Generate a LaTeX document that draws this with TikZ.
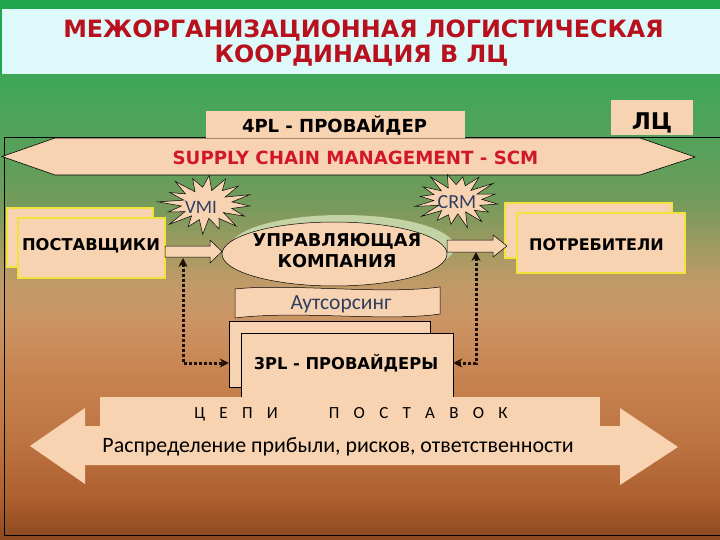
\documentclass[tikz,border=0pt]{standalone}
\usepackage{fontspec}
\setmainfont{DejaVu Sans}
\newfontfamily\calfont{Carlito}
\usetikzlibrary{arrows.meta,shapes.geometric}
\definecolor{peach}{HTML}{F8D3B2}
\definecolor{titred}{HTML}{B8101C}
\definecolor{scmred}{HTML}{D0182A}
\definecolor{topgreen}{HTML}{20A64C}
\definecolor{panel}{HTML}{DDF9FA}
\definecolor{yel}{HTML}{F2E23C}
\definecolor{slate}{HTML}{2E3F62}
\definecolor{shadowg}{HTML}{C4D3A6}
\definecolor{dotc}{HTML}{1E0E08}
\definecolor{g1}{HTML}{3DA858}
\definecolor{g2}{HTML}{5CA05A}
\definecolor{g3}{HTML}{7A9A5C}
\definecolor{g4}{HTML}{A49A62}
\definecolor{g5}{HTML}{C29A68}
\definecolor{g6}{HTML}{CC9464}
\definecolor{g7}{HTML}{C6824E}
\definecolor{g8}{HTML}{BD7442}
\definecolor{g9}{HTML}{AD5E2E}
\definecolor{g10}{HTML}{8C4820}
\tikzset{
  pbox/.style={fill=peach, inner sep=0pt},
  ybox/.style={fill=peach, draw=yel, line width=1.6pt, inner sep=0pt},
  kbox/.style={fill=peach, draw=black, line width=0.5pt, inner sep=0pt},
  blbl/.style={anchor=base, inner sep=0pt, font=\bfseries\fontsize{#1}{#1}\selectfont},
  clbl/.style={anchor=base, inner sep=0pt, font=\calfont\fontsize{#1}{#1}\selectfont},
  barrow/.style={fill=peach, draw=black, line width=0.5pt, line join=miter},
  starsty/.style={fill=peach, draw=black, line width=0.5pt},
  dotarrow/.style={draw=dotc, line width=3pt, dash pattern=on 3pt off 2pt,
    {Stealth[length=9pt,width=9pt]}-{Stealth[length=9pt,width=9pt]}}
}
\begin{document}
\begin{tikzpicture}[x=1pt,y=-1pt]
\useasboundingbox (0,0) rectangle (720,540);
% background
\fill[topgreen] (0,0) rectangle (720,76);
\shade[top color=g1,bottom color=g2] (0,75) rectangle (720,161);
\shade[top color=g2,bottom color=g3] (0,160) rectangle (720,211);
\shade[top color=g3,bottom color=g4] (0,210) rectangle (720,251);
\shade[top color=g4,bottom color=g5] (0,250) rectangle (720,286);
\shade[top color=g5,bottom color=g6] (0,285) rectangle (720,321);
\shade[top color=g6,bottom color=g7] (0,320) rectangle (720,381);
\shade[top color=g7,bottom color=g8] (0,380) rectangle (720,441);
\shade[top color=g8,bottom color=g9] (0,440) rectangle (720,501);
\shade[top color=g9,bottom color=g10] (0,500) rectangle (720,540);
\fill[panel] (2,9) rectangle (720,74);
\node[blbl=23.8, text=titred] (t1) at (363.5,38) {МЕЖОРГАНИЗАЦИОННАЯ ЛОГИСТИЧЕСКАЯ};
\node[blbl=23.8, text=titred] (t2) at (361.5,63) {КООРДИНАЦИЯ В ЛЦ};
% frame
\draw[black, line width=0.8pt] (722,137) -- (4,137) -- (4,535) -- (722,535);
% SCM arrow
\draw[barrow, line width=0.6pt] (2,156.5) -- (55,138) -- (640,138) -- (695,157) -- (640,175) -- (55,175) -- cycle;
\node[blbl=18.2, text=scmred] (scm) at (355.5,165) {SUPPLY CHAIN MANAGEMENT - SCM};
% 4PL and LC
\node[pbox, minimum width=259pt, minimum height=27pt] (pl4box) at (335.5,125) {};
\node[blbl=18] (pl4) at (334.5,133) {4PL - ПРОВАЙДЕР};
\node[pbox, minimum width=82pt, minimum height=35pt] (lcbox) at (652,117.5) {};
\node[blbl=23] (lc) at (652,130) {ЛЦ};
% stars
\draw[starsty] plot[samples at={0,...,31}, variable=\t]
  ({206+cos(\t*360/32+4)*44*(1-0.45*mod(\t,2))*(1+0.1*sin(\t*97))},
   {204+sin(\t*360/32+4)*28*(1-0.45*mod(\t,2))*(1+0.1*sin(\t*97))}) -- cycle;
\node[clbl=19, text=slate] (vmi) at (201,214) {VMI};
\draw[starsty] plot[samples at={0,...,31}, variable=\t]
  ({457+cos(\t*360/32+9)*41*(1-0.45*mod(\t,2))*(1+0.1*sin(\t*131))},
   {200+sin(\t*360/32+9)*26*(1-0.45*mod(\t,2))*(1+0.1*sin(\t*131))}) -- cycle;
\node[clbl=20, text=slate] (crm) at (457,208) {CRM};
% suppliers / consumers
\node[ybox, minimum width=146pt, minimum height=59pt] (postb) at (80,237.5) {};
\node[ybox, minimum width=147pt, minimum height=60pt] (postf) at (91.5,248) {};
\node[blbl=16.3] (post) at (91,251) {ПОСТАВЩИКИ};
\node[ybox, minimum width=167pt, minimum height=55pt] (potb) at (588.5,230.5) {};
\node[ybox, minimum width=168pt, minimum height=60pt] (potf) at (601,243) {};
\node[blbl=16] (pot) at (596.5,250) {ПОТРЕБИТЕЛИ};
% outsourcing
\draw[kbox] (235,289) .. controls (290,283) and (380,295) .. (440,287) -- (440,314)
  .. controls (385,322) and (300,310) .. (235,318) -- cycle;
\node[clbl=21.5, text=slate] (auts) at (341,309) {Аутсорсинг};
% managing company
\fill[shadowg] (342.5,247) ellipse [x radius=112pt, y radius=32pt];
\node[ellipse, kbox, minimum width=225pt, minimum height=64pt] (uk) at (334.5,254) {};
\node[blbl=17.7] (uk1) at (337,247) {УПРАВЛЯЮЩАЯ};
\node[blbl=17.7] (uk2) at (337,267) {КОМПАНИЯ};
% block arrows
\draw[barrow] (165,246) -- (210,246) -- (210,240) -- (222,251.5) -- (210,263) -- (210,257) -- (165,257) -- cycle;
\draw[barrow] (447,240) -- (493,240) -- (493,235) -- (507,246) -- (493,257) -- (493,252) -- (447,252) -- cycle;
% 3PL
\node[kbox, minimum width=201pt, minimum height=66pt] (tplb) at (329.5,354) {};
\node[kbox, minimum width=212pt, minimum height=66pt] (tplf) at (347,366) {};
\node[blbl=16.3] (tpl) at (346,369) {3PL - ПРОВАЙДЕРЫ};
% dotted connectors
\coordinate (la) at (183,258);
\coordinate (lb) at (183,363);
\draw[dotarrow] (la) -- (lb) -- (lb -| tplb.west);
\coordinate (ra) at (476,252);
\coordinate (rb) at (476,363);
\draw[dotarrow] (ra) -- (rb) -- (rb -| tplf.east);
% supply chain banner and big arrow
\node[pbox, minimum width=500pt, minimum height=28.5pt] (cepibox) at (350,411.25) {};
\node[clbl=17] (cepi) at (351,418) {Ц\hspace{14.3pt}Е\hspace{14.3pt}П\hspace{14.3pt}И\hspace{51pt}П\hspace{14.3pt}О\hspace{14.3pt}С\hspace{14.3pt}Т\hspace{14.3pt}А\hspace{14.3pt}В\hspace{14.3pt}О\hspace{14.3pt}К};
\fill[peach] (30,446) -- (85,408) -- (85,426) -- (620,426) -- (620,408) -- (678,447)
  -- (620,485) -- (620,465) -- (85,465) -- (85,484) -- cycle;
\node[clbl=21.9] (raspr) at (338,452) {Распределение прибыли, рисков, ответственности};
\end{tikzpicture}
\end{document}
